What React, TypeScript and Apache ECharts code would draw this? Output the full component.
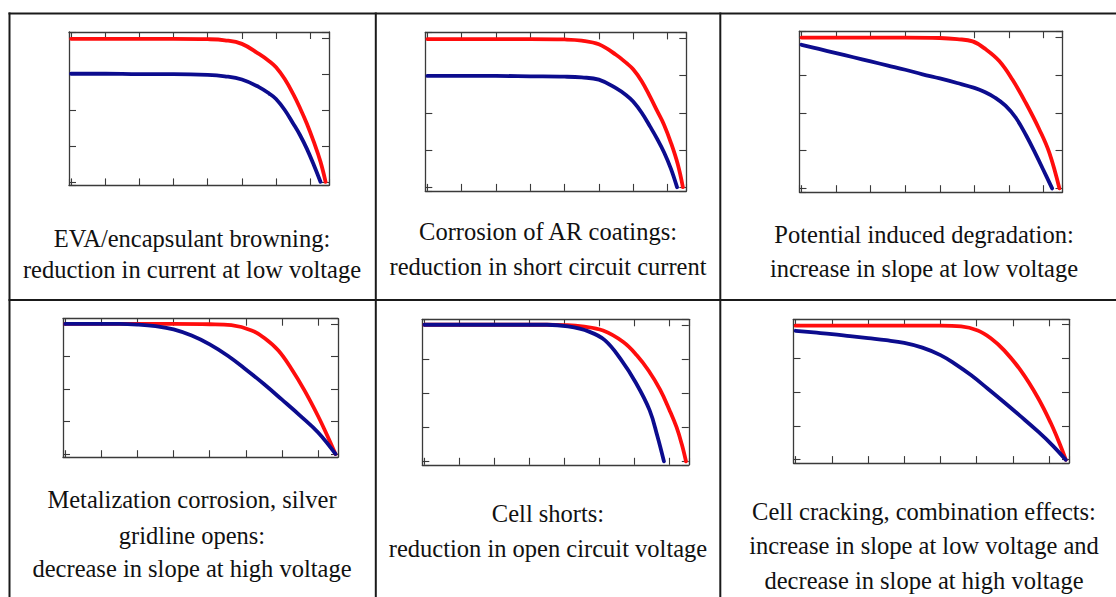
import React, { useEffect, useRef } from "react";
import * as echarts from "echarts";

// ---- axis ranges (tick units) ----
const X_MIN = -0.06;
const X_MAX = 7.55;
const Y_MIN = -0.1;
const Y_MAX = 4.16;

// ---- I-V curves: [voltage, current] in tick units ----
const evaRed: [number, number][] = [[0, 3.97], [1, 3.97], [2, 3.97], [3, 3.97], [4, 3.96], [4.5, 3.93], [5, 3.83], [5.5, 3.55], [5.8, 3.35], [6.0, 3.18], [6.25, 2.86], [6.5, 2.44], [6.7, 2.05], [6.9, 1.62], [7.1, 1.12], [7.3, 0.56], [7.45, 0]];
const evaBlue: [number, number][] = [[0, 3.0], [1, 3.0], [2, 2.99], [3, 2.99], [4, 2.97], [4.5, 2.93], [5, 2.84], [5.5, 2.63], [5.8, 2.45], [6.0, 2.3], [6.25, 2.0], [6.5, 1.62], [6.7, 1.3], [6.9, 0.92], [7.1, 0.48], [7.3, 0]];

const arRed: [number, number][] = [[0, 3.98], [1, 3.98], [2, 3.98], [3, 3.98], [4, 3.97], [4.5, 3.94], [5, 3.84], [5.5, 3.56], [5.8, 3.34], [6.0, 3.17], [6.25, 2.85], [6.5, 2.42], [6.7, 2.05], [6.9, 1.68], [7.1, 1.2], [7.3, 0.62], [7.45, 0]];
const arBlue: [number, number][] = [[0, 2.99], [1, 2.99], [2, 2.99], [3, 2.98], [4, 2.97], [4.5, 2.95], [5, 2.89], [5.5, 2.66], [5.8, 2.47], [6.0, 2.3], [6.25, 2.0], [6.5, 1.62], [6.7, 1.3], [6.9, 0.94], [7.1, 0.5], [7.28, 0]];

const pidRed: [number, number][] = [[0, 3.99], [1, 3.99], [2, 3.99], [3, 3.99], [4, 3.98], [4.5, 3.95], [4.95, 3.89], [5.33, 3.68], [5.72, 3.37], [6.1, 2.88], [6.49, 2.26], [6.88, 1.56], [7.17, 0.94], [7.46, 0]];
const pidBlue: [number, number][] = [[0, 3.8], [0.5, 3.69], [1, 3.58], [1.5, 3.47], [2, 3.36], [2.5, 3.25], [3, 3.14], [3.5, 3.02], [4, 2.91], [4.5, 2.79], [5, 2.66], [5.3, 2.55], [5.6, 2.4], [5.9, 2.19], [6.2, 1.87], [6.5, 1.4], [6.8, 0.86], [7.0, 0.48], [7.25, 0]];

const metalRed: [number, number][] = [[0, 4.0], [1, 4.0], [2, 4.0], [3, 4.0], [4, 3.99], [4.6, 3.96], [5.16, 3.8], [5.53, 3.55], [5.9, 3.18], [6.26, 2.62], [6.63, 1.94], [7.0, 1.16], [7.28, 0.5], [7.48, 0]];
const metalBlue: [number, number][] = [[0, 4.0], [1, 4.0], [1.5, 4.0], [2, 3.98], [2.5, 3.93], [3, 3.83], [3.5, 3.64], [4, 3.37], [4.5, 3.02], [5, 2.6], [5.5, 2.15], [6, 1.67], [6.5, 1.18], [7, 0.66], [7.48, 0]];

const shortRed: [number, number][] = [[0, 4.0], [1, 4.0], [2, 4.0], [3, 4.0], [3.5, 4.0], [4, 3.99], [4.5, 3.95], [5.1, 3.83], [5.67, 3.5], [6.07, 3.1], [6.4, 2.66], [6.73, 2.1], [7.0, 1.5], [7.2, 1.0], [7.35, 0.5], [7.47, 0]];
const shortBlue: [number, number][] = [[0, 4.0], [1, 4.0], [2, 4.0], [3, 4.0], [3.5, 4.0], [4.1, 3.95], [4.7, 3.8], [5.15, 3.55], [5.6, 3.0], [6.05, 2.28], [6.43, 1.5], [6.65, 0.75], [6.84, 0]];

const crackRed: [number, number][] = [[0, 3.97], [1, 3.97], [2, 3.97], [3, 3.97], [4, 3.97], [4.57, 3.95], [5.03, 3.83], [5.39, 3.6], [5.76, 3.24], [6.22, 2.64], [6.68, 1.86], [7.05, 1.08], [7.32, 0.4], [7.46, 0]];
const crackBlue: [number, number][] = [[0, 3.82], [0.5, 3.77], [1, 3.72], [1.5, 3.66], [2, 3.6], [2.5, 3.54], [3, 3.46], [3.5, 3.32], [4, 3.1], [4.4, 2.84], [4.85, 2.5], [5.3, 2.11], [5.75, 1.71], [6.2, 1.3], [6.7, 0.83], [7.1, 0.42], [7.46, 0]];

const redCurves = [evaRed, arRed, pidRed, metalRed, shortRed, crackRed];
const blueCurves = [evaBlue, arBlue, pidBlue, metalBlue, shortBlue, crackBlue];

// ---- captions ----
const captions: string[][] = [
  ["EVA/encapsulant browning:", "reduction in current at low voltage"],
  ["Corrosion of AR coatings:", "reduction in short circuit current"],
  ["Potential induced degradation:", "increase in slope at low voltage"],
  ["Metalization corrosion, silver", "gridline opens:", "decrease in slope at high voltage"],
  ["Cell shorts:", "reduction in open circuit voltage"],
  ["Cell cracking, combination effects:", "increase in slope at low voltage and", "decrease in slope at high voltage"],
];

// ---- layout (pixels) ----
const gridBoxes = [
  { left: 69, top: 32, width: 260, height: 153.4 },
  { left: 425.3, top: 32.4, width: 261, height: 158.5 },
  { left: 799.5, top: 31.2, width: 263, height: 161 },
  { left: 63, top: 318.7, width: 275, height: 138.5 },
  { left: 422.3, top: 319.3, width: 266.5, height: 145.5 },
  { left: 793.5, top: 319.3, width: 275.5, height: 143.8 },
];
const captionCenters = [192, 548, 924, 192, 548, 924];
const captionBaselines = [
  [246, 277],
  [239.5, 274],
  [242.7, 276],
  [507, 543.3, 576.7],
  [521.7, 556.7],
  [519, 553.3, 588.3],
];

const AXIS_COLOR = "#3a3a3a";
const RED = "#ff0d0d";
const BLUE = "#0c0c8e";
const SERIF = "'Liberation Serif', 'Times New Roman', Times, serif";
const FONT_SIZE = 24.5;

export default function App() {
  const ref = useRef<HTMLDivElement>(null);

  useEffect(() => {
    if (!ref.current) return;
    const chart = echarts.init(ref.current, undefined, { renderer: "svg" });

    const axisCommon = {
      type: "value" as const,
      axisLabel: { show: false },
      splitLine: { show: false },
      axisTick: { show: true, inside: true, length: 7, lineStyle: { color: AXIS_COLOR, width: 1.1 } },
      axisLine: { show: true, onZero: false, lineStyle: { color: AXIS_COLOR, width: 1.3 } },
      minInterval: 1,
      maxInterval: 1,
    };

    const xAxis: any[] = [];
    const yAxis: any[] = [];
    gridBoxes.forEach((_, i) => {
      xAxis.push({ ...axisCommon, gridIndex: i, position: "bottom", min: X_MIN, max: X_MAX, splitNumber: 8 });
      xAxis.push({ ...axisCommon, gridIndex: i, position: "top", min: X_MIN, max: X_MAX, splitNumber: 8 });
      yAxis.push({ ...axisCommon, gridIndex: i, position: "left", min: Y_MIN, max: Y_MAX, splitNumber: 4 });
      yAxis.push({ ...axisCommon, gridIndex: i, position: "right", min: Y_MIN, max: Y_MAX, splitNumber: 4 });
    });

    const series: any[] = [];
    gridBoxes.forEach((_, i) => {
      series.push({
        type: "line",
        xAxisIndex: i * 2,
        yAxisIndex: i * 2,
        data: redCurves[i],
        showSymbol: false,
        smooth: 0.4,
        lineStyle: { color: RED, width: 3.8, cap: "round", join: "round" },
        z: 2,
      });
      series.push({
        type: "line",
        xAxisIndex: i * 2,
        yAxisIndex: i * 2,
        data: blueCurves[i],
        showSymbol: false,
        smooth: 0.4,
        lineStyle: { color: BLUE, width: 3.8, cap: "round", join: "round" },
        z: 3,
      });
    });

    const lineStyle = { stroke: "#1a1a1a", lineWidth: 2 };
    const graphic: any[] = [
      { type: "line", shape: { x1: 8.5, y1: 13.5, x2: 1116, y2: 13.5 }, style: lineStyle },
      { type: "line", shape: { x1: 8.5, y1: 300, x2: 1116, y2: 300 }, style: lineStyle },
      { type: "line", shape: { x1: 9.5, y1: 12.5, x2: 9.5, y2: 597 }, style: lineStyle },
      { type: "line", shape: { x1: 375.8, y1: 12.5, x2: 375.8, y2: 597 }, style: lineStyle },
      { type: "line", shape: { x1: 720.3, y1: 12.5, x2: 720.3, y2: 597 }, style: lineStyle },
    ];
    captions.forEach((lines, i) => {
      lines.forEach((t, j) => {
        graphic.push({
          type: "text",
          x: captionCenters[i],
          y: captionBaselines[i][j] - 8,
          style: {
            text: t,
            fill: "#111",
            font: FONT_SIZE + "px " + SERIF,
            fontSize: FONT_SIZE,
            fontFamily: SERIF,
            textAlign: "center",
            textVerticalAlign: "middle",
            align: "center",
            verticalAlign: "middle",
          },
        });
      });
    });

    chart.setOption({
      animation: false,
      backgroundColor: "#ffffff",
      textStyle: { fontFamily: SERIF },
      grid: gridBoxes.map((g) => ({ ...g, containLabel: false })),
      xAxis,
      yAxis,
      series,
      graphic,
    });

    return () => chart.dispose();
  }, []);

  return (
    <div
      ref={ref}
      style={{ position: "absolute", left: 0, top: 0, width: 1116, height: 597, background: "#fff" }}
    />
  );
}
